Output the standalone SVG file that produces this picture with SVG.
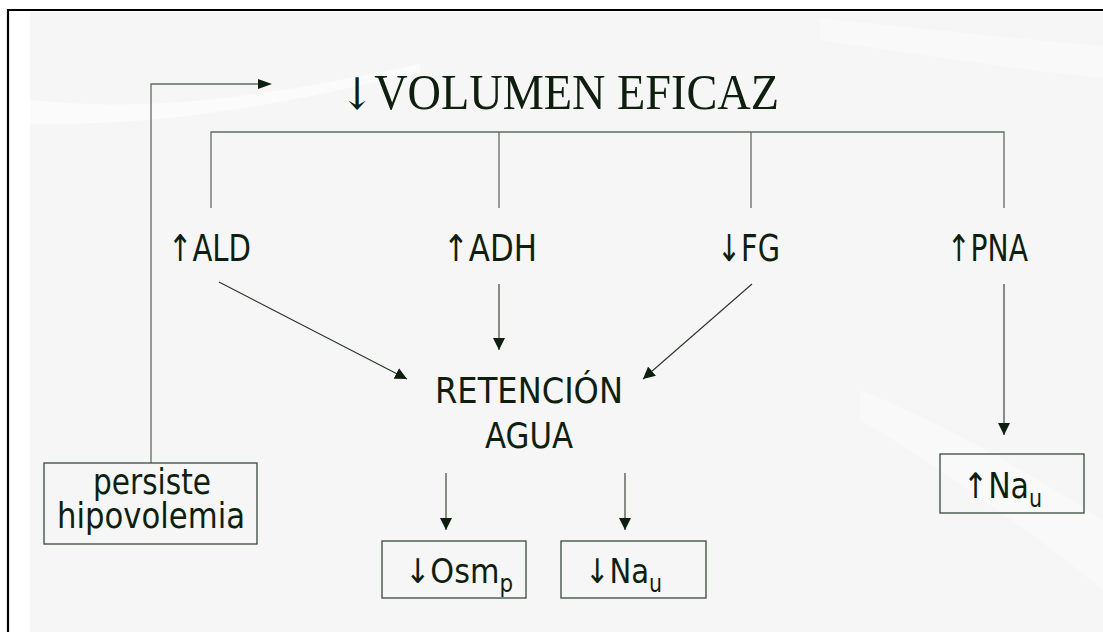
<svg xmlns="http://www.w3.org/2000/svg" width="1103" height="632" viewBox="0 0 1103 632">
<defs>
<style>
.ln{stroke:#5f6e5f;stroke-width:1.3;fill:none}
.ar{stroke:#2a352a;stroke-width:1.1;fill:none}
.bx{fill:none;stroke:#3a4a3a;stroke-width:1.3}
.t{font-family:"DejaVu Sans","Liberation Sans",sans-serif;fill:#0f1f0f}
.tt{font-family:"Liberation Serif","Times New Roman",serif;fill:#0f1f0f}
</style>
<marker id="ah" viewBox="0 0 10 10" refX="10" refY="5" markerWidth="12" markerHeight="12" markerUnits="userSpaceOnUse" orient="auto">
<path d="M0,0 L10,5 L0,10 z" fill="#0f1f0f"/>
</marker>
</defs>
<rect x="0" y="0" width="1103" height="632" fill="#ffffff"/>
<rect x="30" y="12" width="1073" height="620" fill="#f6f6f6"/>
<g fill="#fbfbfb">
<path d="M30,100 C150,112 250,100 420,64 L420,72 C260,110 150,126 30,124 z"/>
<path d="M820,18 C950,32 1030,40 1103,46 L1103,78 C1020,70 930,56 820,40 z" opacity="0.7"/>
<path d="M860,390 C960,430 1040,480 1103,520 L1103,590 C1040,540 960,480 860,420 z" opacity="0.5"/>
</g>
<path d="M8,632 L8,10 L1103,10" fill="none" stroke="#000" stroke-width="2.2"/>

<g id="connectors">
<path class="ln" d="M151,463 L151,84 L258,84"/>
<path d="M258,79 L272,84 L258,89 z" fill="#0f1f0f"/>
<path class="ln" d="M211,208 L211,132 L1004,132 L1004,208"/>
<path class="ln" d="M499,132 L499,208"/>
<path class="ln" d="M751,132 L751,208"/>
<path class="ar" d="M219,282 L407,379" marker-end="url(#ah)"/>
<path class="ar" d="M499,284 L499,350" marker-end="url(#ah)"/>
<path class="ar" d="M752,284 L643,379" marker-end="url(#ah)"/>
<path class="ar" d="M1004,284 L1004,435" marker-end="url(#ah)"/>
<path class="ar" d="M446,473 L446,530" marker-end="url(#ah)"/>
<path class="ar" d="M625,473 L625,530" marker-end="url(#ah)"/>
</g>

<g id="title">
<text class="tt" x="340" y="109" font-size="50" textLength="439" lengthAdjust="spacingAndGlyphs"><tspan font-family="DejaVu Serif" font-size="44">↓</tspan>VOLUMEN EFICAZ</text>
</g>
<g id="ald"><text class="t" x="168" y="261" font-size="37" textLength="83" lengthAdjust="spacingAndGlyphs">↑ALD</text></g>
<g id="adh"><text class="t" x="443" y="261" font-size="37" textLength="94" lengthAdjust="spacingAndGlyphs">↑ADH</text></g>
<g id="fg"><text class="t" x="717" y="261" font-size="37" textLength="63" lengthAdjust="spacingAndGlyphs">↓FG</text></g>
<g id="pna"><text class="t" x="947" y="261" font-size="37" textLength="81" lengthAdjust="spacingAndGlyphs">↑PNA</text></g>
<g id="retencion">
<text class="t" x="435" y="403" font-size="36" textLength="188" lengthAdjust="spacingAndGlyphs">RETENCIÓN</text>
<text class="t" x="485" y="448" font-size="36" textLength="88" lengthAdjust="spacingAndGlyphs">AGUA</text>
</g>
<g id="persiste">
<rect class="bx" x="44" y="463" width="213" height="81"/>
<text class="t" x="152" y="494" font-size="35" text-anchor="middle" textLength="118" lengthAdjust="spacingAndGlyphs">persiste</text>
<text class="t" x="151" y="528" font-size="35" text-anchor="middle" textLength="188" lengthAdjust="spacingAndGlyphs">hipovolemia</text>
</g>
<g id="osm">
<rect class="bx" x="382" y="541" width="144" height="57"/>
<text class="t" x="405" y="583" font-size="34" textLength="108" lengthAdjust="spacingAndGlyphs">↓Osm<tspan font-size="24" dy="9">p</tspan></text>
</g>
<g id="nau">
<rect class="bx" x="561" y="541" width="145" height="57"/>
<text class="t" x="585" y="583" font-size="34" textLength="77" lengthAdjust="spacingAndGlyphs">↓Na<tspan font-size="24" dy="9">u</tspan></text>
</g>
<g id="nau2">
<rect class="bx" x="940" y="454" width="144" height="59"/>
<text class="t" x="963" y="498" font-size="35" textLength="79" lengthAdjust="spacingAndGlyphs">↑Na<tspan font-size="24" dy="9">u</tspan></text>
</g>
</svg>
